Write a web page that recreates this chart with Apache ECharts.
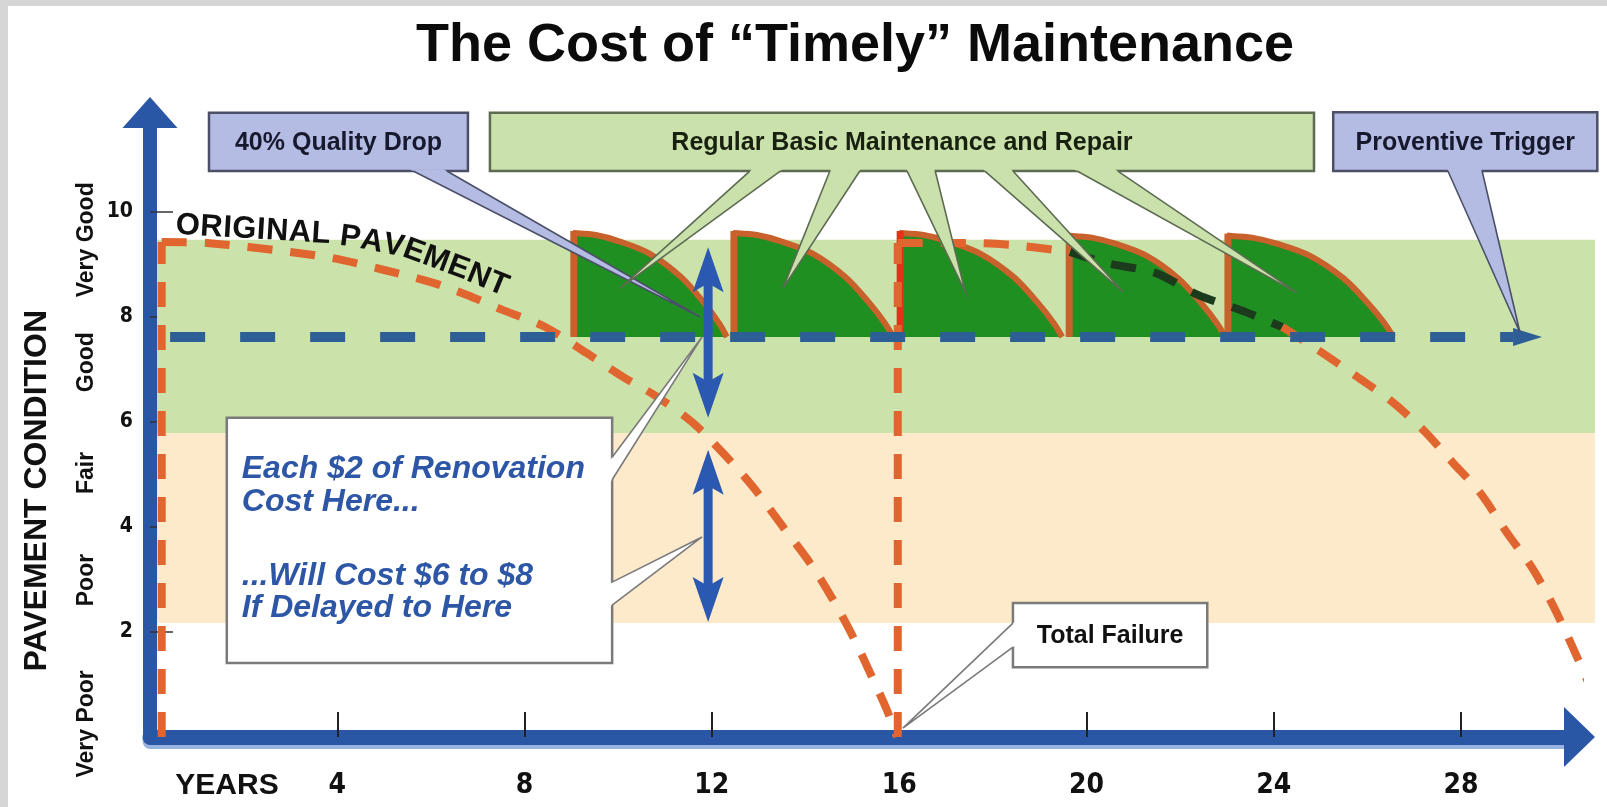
<!DOCTYPE html>
<html><head><meta charset="utf-8"><title>The Cost of “Timely” Maintenance</title>
<script src="https://cdn.jsdelivr.net/npm/echarts@6.0.0/dist/echarts.min.js"></script>
<style>html,body{margin:0;padding:0;background:#fff;overflow:hidden}#chart{width:1607px;height:807px}</style>
</head><body><div id="chart"></div>
<script>
// ================= DATA =================
const titleText = 'The Cost of “Timely” Maintenance';
const xAxisTitle = 'YEARS';
const xTicks = [4, 8, 12, 16, 20, 24, 28];
const yTicks = [2, 4, 6, 8, 10];
const conditionNames = ['Very Poor', 'Poor', 'Fair', 'Good', 'Very Good'];
const conditionPos = [0.25, 2.99, 5.03, 7.14, 9.47];

// condition bands: [x0, x1, y0, y1]
const bandGood = [0.15, 30.86, 5.79, 9.47];
const bandFair = [0.15, 30.86, 2.17, 5.79];

// original pavement (no maintenance)
const originalEdge = [[0.25, 0], [0.25, 9.43]];
const originalCurve = [[0.25, 9.43], [1.22, 9.41], [2.99, 9.24], [3.91, 9.12], [4.98, 8.9], [5.98, 8.67], [6.77, 8.42], [7.54, 8.13], [8.44, 7.81], [9.33, 7.31], [10.1, 6.86], [10.83, 6.48], [11.6, 5.98], [12.32, 5.33], [12.88, 4.76], [13.52, 4.0], [14.1, 3.31], [14.59, 2.61], [15.02, 1.9], [15.38, 1.22], [15.74, 0.51], [15.95, 0]];
// reconstructed pavement after total failure
const renewalEdge = [[15.97, 0], [15.97, 9.41]];
const renewalTop = [[15.97, 9.41], [17.45, 9.41], [18.43, 9.37], [19.65, 9.24]];
const renewalUnder = [[19.65, 9.24], [20.4, 9.03], [21.47, 8.84], [22.38, 8.42], [23.3, 8.13], [24.18, 7.81]];
const renewalTail = [[24.18, 7.81], [25.05, 7.31], [25.78, 6.86], [26.48, 6.42], [27.19, 5.85], [27.83, 5.22], [28.41, 4.65], [28.98, 3.89], [29.52, 3.22], [29.99, 2.46], [30.41, 1.66], [30.76, 0.95], [31.05, 0.38]];

// maintenance caps
const capStart = [9.03, 12.45, 16.0, 19.61, 23.0];
const capEnd = [12.32, 15.87, 19.48, 22.96, 26.55];
const capTop = [9.6, 9.6, 9.6, 9.55, 9.55];
const capBase = 7.62;
const capProfile = [[0, 1], [0.15, 0.98], [0.3, 0.92], [0.5, 0.8], [0.7, 0.58], [0.85, 0.33], [0.95, 0.13], [1, 0]];

// preventive trigger line and cost arrows: [from, to]
const triggerLine = [[0.43, 7.62], [29.73, 7.62]];
const costArrows = [[[11.92, 6.08], [11.92, 9.33]], [[11.92, 2.19], [11.92, 5.47]]];

// callouts: box [x0, x1, y0, y1]
const calloutText = ['40% Quality Drop', 'Regular Basic Maintenance and Repair', 'Proventive Trigger', '', 'Total Failure'];
const calloutBox = [[1.26, 6.79, 10.78, 11.89], [7.26, 24.86, 10.78, 11.89], [25.27, 30.91, 10.78, 11.9], [1.64, 9.87, 1.41, 6.08], [18.43, 22.58, 1.33, 2.55]];
// pointers: [box index, base point 1, base point 2, tip]
const calloutPointers = [
  [0, [5.62, 10.78], [6.34, 10.78], [11.75, 8.0]],
  [1, [12.81, 10.78], [13.46, 10.78], [10.04, 8.55]],
  [1, [14.52, 10.78], [15.16, 10.78], [13.52, 8.55]],
  [1, [16.17, 10.78], [16.77, 10.78], [17.41, 8.48]],
  [1, [17.83, 10.78], [18.43, 10.78], [20.78, 8.48]],
  [1, [19.8, 10.78], [20.67, 10.78], [24.5, 8.46]],
  [2, [27.72, 10.78], [28.45, 10.78], [29.26, 7.7]],
  [3, [9.87, 5.33], [9.87, 4.9], [11.79, 7.62]],
  [3, [9.87, 2.95], [9.87, 2.51], [11.79, 3.81]],
  [4, [18.43, 2.17], [18.43, 1.71], [16.08, 0.17]]
];
const noteLines = ['Each $2 of Renovation', 'Cost Here...', '...Will Cost $6 to $8', 'If Delayed to Here'];
const noteX = 1.96;
const noteY = [5.10, 4.48, 3.07, 2.46];

const curveLabel = 'ORIGINAL PAVEMENT';
const curveLabelPath = [[0.55, 9.75], [3.69, 9.58], [4.40, 9.50], [5.49, 9.30], [6.60, 8.93], [7.58, 8.57], [8.33, 8.29]];

// ================= STYLE / RENDER =================
const FONT = '"Liberation Sans", Arial, Helvetica, sans-serif';
function hasFont(name) {
  const c = document.createElement('canvas').getContext('2d');
  const s = 'mmmmmmmmmlliiWWW 0123456789';
  c.font = '40px monospace'; const a = c.measureText(s).width;
  c.font = '40px "' + name + '", monospace'; const b = c.measureText(s).width;
  c.font = '40px serif'; const a2 = c.measureText(s).width;
  c.font = '40px "' + name + '", serif'; const b2 = c.measureText(s).width;
  return a !== b || a2 !== b2;
}
const NARROW = ['Liberation Sans Narrow', 'DejaVu Sans Condensed', 'Roboto Condensed'].find(hasFont);
const TICK_FONT = NARROW ? '"' + NARROW + '", ' + FONT : FONT;
const X_TICK_SIZE = NARROW === 'Liberation Sans Narrow' ? 34 : 28;
const Y_TICK_SIZE = NARROW === 'Liberation Sans Narrow' ? 25 : 21;

const AXIS_BLUE = '#2a56a6';
const ORANGE = '#e0652e';
const bandList = [bandGood, bandFair];
const bandColors = ['#cbe2ab', '#fdeacb'];
const calloutStyle = [
  { fill: '#b5bce4', stroke: '#4b5068', color: '#171a2e' },
  { fill: '#cae1ac', stroke: '#5d6b52', color: '#18200f' },
  { fill: '#b5bce4', stroke: '#4b5068', color: '#171a2e' },
  { fill: '#ffffff', stroke: '#7a7a7a', color: '#2d57a6' },
  { fill: '#ffffff', stroke: '#7a7a7a', color: '#111111' }
];

function curvePath(pts) {
  let d = '';
  for (let i = 0; i < pts.length - 1; i++) {
    const p0 = pts[Math.max(i - 1, 0)], p1 = pts[i], p2 = pts[i + 1], p3 = pts[Math.min(i + 2, pts.length - 1)];
    const c1x = p1[0] + (p2[0] - p0[0]) / 6, c1y = p1[1] + (p2[1] - p0[1]) / 6;
    const c2x = p2[0] - (p3[0] - p1[0]) / 6, c2y = p2[1] - (p3[1] - p1[1]) / 6;
    d += ' C' + c1x + ',' + c1y + ' ' + c2x + ',' + c2y + ' ' + p2[0] + ',' + p2[1];
  }
  return d;
}
function head(tip, dir, len, hw, notch) {
  const nx = -dir[1], ny = dir[0];
  const bx = tip[0] - dir[0] * len, by = tip[1] - dir[1] * len;
  const pts = [tip, [bx + nx * hw, by + ny * hw]];
  if (notch) pts.push([tip[0] - dir[0] * len * notch, tip[1] - dir[1] * len * notch]);
  pts.push([bx - nx * hw, by - ny * hw]);
  return pts;
}

const measureCtx = document.createElement('canvas').getContext('2d');

const dashedLine = (name, data, color, extra) => Object.assign({
  name, type: 'line', data, symbol: 'none', showSymbol: false, silent: true, z: 3, clip: false,
  smooth: 0.3,
  lineStyle: { color, width: 8, type: [25, 18], cap: 'butt' }
}, extra || {});

const option = {
  backgroundColor: '#ffffff',
  animation: false,
  title: [{
    text: titleText, left: 850, top: 12, textAlign: 'center',
    textStyle: { fontFamily: FONT, fontWeight: 'bold', fontSize: 54, lineHeight: 58, color: '#0b0b0b' }
  }, {
    text: xAxisTitle, left: 222, top: 766, textAlign: 'center',
    textStyle: { fontFamily: FONT, fontWeight: 'bold', fontSize: 30, lineHeight: 30, color: '#111' }
  }],
  grid: { left: 150, right: 27.5, top: 112.5, bottom: 70, containLabel: false, outerBoundsMode: 'none' },
  xAxis: {
    type: 'value', min: 0, max: 30.53, interval: 4,
    axisLine: { show: true, symbol: ['none', 'triangle'], symbolSize: [60, 31],
      lineStyle: { color: AXIS_BLUE, width: 15, shadowColor: '#9ab4e2', shadowOffsetY: 4, shadowBlur: 0 } },
    axisTick: { show: true, inside: true, length: 25, customValues: xTicks, lineStyle: { color: '#222', width: 2 } },
    axisLabel: { customValues: xTicks, margin: 786 - 737 - X_TICK_SIZE / 2, fontFamily: TICK_FONT, fontWeight: 'bold', fontSize: X_TICK_SIZE, lineHeight: X_TICK_SIZE, color: '#111' },
    splitLine: { show: false }
  },
  yAxis: [{
    type: 'value', min: 0, max: 11.895, interval: 2, position: 'left',
    axisLine: { show: true, symbol: ['none', 'triangle'], symbolSize: [55, 31],
      lineStyle: { color: AXIS_BLUE, width: 14, cap: 'square' } },
    axisTick: { show: true, inside: true, length: 23, customValues: yTicks, lineStyle: { color: '#333', width: 1.5 } },
    axisLabel: { customValues: yTicks, margin: 17, fontFamily: TICK_FONT, fontWeight: 'bold', fontSize: Y_TICK_SIZE, lineHeight: Y_TICK_SIZE, color: '#111' },
    splitLine: { show: false }
  }, {
    type: 'value', min: 0, max: 11.895, position: 'left', offset: 0,
    name: 'PAVEMENT CONDITION', nameLocation: 'middle', nameGap: 96.5, nameMoveOverlap: false,
    nameTextStyle: { fontFamily: FONT, fontWeight: 'bold', fontSize: 32, lineHeight: 32, color: '#111', padding: [0, 132, 0, 0] },
    axisLine: { show: false }, axisTick: { show: false }, splitLine: { show: false },
    axisLabel: {
      customValues: conditionPos, rotate: 90, margin: 51.5,
      formatter: (v) => { const k = conditionPos.findIndex(p => Math.abs(p - v) < 1e-6); return k >= 0 ? conditionNames[k] : ''; },
      fontFamily: FONT, fontWeight: 'bold', fontSize: 23, lineHeight: 23, color: '#111'
    }
  }],
  graphic: [
    { type: 'rect', z: 100, silent: true, shape: { x: 0, y: 0, width: 8, height: 807 }, style: { fill: '#d6d6d6' } },
    { type: 'rect', z: 100, silent: true, shape: { x: 0, y: 0, width: 1607, height: 6 }, style: { fill: '#d6d6d6' } }
  ],
  series: [
    { // condition bands
      type: 'custom', name: 'bands', silent: true, clip: false, z: 1,
      data: bandList.map(b => [b[0], b[2]]),
      renderItem: (params, api) => {
        const b = bandList[params.dataIndex];
        const p0 = api.coord([b[0], b[3]]), p1 = api.coord([b[1], b[2]]);
        return { type: 'rect', shape: { x: p0[0], y: p0[1], width: p1[0] - p0[0], height: p1[1] - p0[1] }, style: { fill: bandColors[params.dataIndex] } };
      }
    },
    { // maintenance caps
      type: 'custom', name: 'caps', silent: true, clip: false, z: 2,
      data: capStart.map((s, i) => [s, capBase]),
      renderItem: (params, api) => {
        const i = params.dataIndex;
        const xs = capStart[i], xe = capEnd[i], top = capTop[i];
        const pts = capProfile.map(([t, h]) => api.coord([xs + t * (xe - xs), capBase + h * (top - capBase)]));
        const b0 = api.coord([xs, capBase]);
        const fillD = 'M' + b0[0] + ',' + b0[1] + ' L' + pts[0][0] + ',' + pts[0][1] + curvePath(pts) + ' Z';
        const edgeD = 'M' + pts[0][0] + ',' + pts[0][1] + curvePath(pts);
        return { type: 'group', children: [
          { type: 'path', shape: { pathData: fillD }, style: { fill: '#1f8f22' } },
          { type: 'path', shape: { pathData: edgeD }, style: { fill: null, stroke: '#c8612b', lineWidth: 6 } },
          { type: 'line', shape: { x1: b0[0] + 1, y1: b0[1], x2: pts[0][0] + 1, y2: pts[0][1] - 2 }, style: { stroke: i === 2 ? '#e4321a' : '#c8612b', lineWidth: 7 } }
        ] };
      }
    },
    dashedLine('original edge', originalEdge, ORANGE, { smooth: false }),
    dashedLine('original pavement', originalCurve, ORANGE),
    dashedLine('renewal edge', renewalEdge, ORANGE, { smooth: false }),
    dashedLine('renewal top', renewalTop, ORANGE),
    dashedLine('renewal under caps', renewalUnder, '#1b3b1c'),
    dashedLine('renewal tail', renewalTail, ORANGE),
    { // trigger line and cost arrows
      type: 'custom', name: 'arrows', silent: true, clip: false, z: 4,
      data: [triggerLine[0]].concat(costArrows.map(a => a[0])),
      renderItem: (params, api) => {
        const i = params.dataIndex;
        const seg = i === 0 ? triggerLine : costArrows[i - 1];
        const p = api.coord(seg[0]), q = api.coord(seg[1]);
        let dx = q[0] - p[0], dy = q[1] - p[1]; const L = Math.hypot(dx, dy); const dir = [dx / L, dy / L];
        if (i === 0) {
          const hl = 29;
          return { type: 'group', children: [
            { type: 'line', shape: { x1: p[0], y1: p[1], x2: q[0] - dir[0] * hl, y2: q[1] - dir[1] * hl }, style: { stroke: '#2d5f96', lineWidth: 10, lineDash: [35, 35] } },
            { type: 'polygon', shape: { points: head(q, dir, hl, 9, 0) }, style: { fill: '#2d5f96' } }
          ] };
        }
        const hl = 45, hw = 15.5, col = '#2b58b0';
        return { type: 'group', children: [
          { type: 'line', shape: { x1: p[0] + dir[0] * hl * 0.6, y1: p[1] + dir[1] * hl * 0.6, x2: q[0] - dir[0] * hl * 0.6, y2: q[1] - dir[1] * hl * 0.6 }, style: { stroke: col, lineWidth: 9 } },
          { type: 'polygon', shape: { points: head(q, dir, hl, hw, 0.8) }, style: { fill: col } },
          { type: 'polygon', shape: { points: head(p, [-dir[0], -dir[1]], hl, hw, 0.8) }, style: { fill: col } }
        ] };
      }
    },
    { // callout boxes with pointers
      type: 'custom', name: 'callouts', silent: true, clip: false, z: 5,
      data: calloutBox.map(b => [b[0], b[2]]),
      renderItem: (params, api) => {
        const i = params.dataIndex;
        const box = calloutBox[i], st = calloutStyle[i];
        const tl = api.coord([box[0], box[3]]), br = api.coord([box[1], box[2]]);
        const children = [{ type: 'rect', shape: { x: tl[0], y: tl[1], width: br[0] - tl[0], height: br[1] - tl[1] }, style: { fill: st.fill, stroke: st.stroke, lineWidth: 2.5 } }];
        calloutPointers.filter(p => p[0] === i).forEach(p => {
          const b1 = api.coord(p[1]), b2 = api.coord(p[2]), t = api.coord(p[3]);
          let dx = (b1[0] + b2[0]) / 2 - t[0], dy = (b1[1] + b2[1]) / 2 - t[1]; const L = Math.hypot(dx, dy); dx /= L; dy /= L;
          const e1 = [b1[0] + dx * 4, b1[1] + dy * 4], e2 = [b2[0] + dx * 4, b2[1] + dy * 4];
          children.push({ type: 'polygon', shape: { points: [e1, t, e2] }, style: { fill: st.fill } });
          children.push({ type: 'polyline', shape: { points: [b1, t, b2] }, style: { stroke: st.stroke, lineWidth: 1.6, fill: null } });
        });
        if (calloutText[i]) {
          children.push({ type: 'text', x: (tl[0] + br[0]) / 2, y: (tl[1] + br[1]) / 2 + 1, style: { text: calloutText[i], font: 'bold 25px ' + FONT, fill: st.color, align: 'center', verticalAlign: 'middle' } });
        }
        if (i === 3) {
          noteLines.forEach((line, k) => {
            const pt = api.coord([noteX, noteY[k]]);
            children.push({ type: 'text', x: pt[0], y: pt[1], style: { text: line, font: 'italic bold 32px ' + FONT, fill: st.color, align: 'left', verticalAlign: 'middle' } });
          });
        }
        return { type: 'group', children };
      }
    },
    { // label along the original pavement curve
      type: 'custom', name: 'curve label', silent: true, clip: false, z: 5,
      data: [curveLabelPath[0]],
      renderItem: (params, api) => {
        const pts = curveLabelPath.map(p => api.coord(p));
        const cum = [0];
        for (let k = 1; k < pts.length; k++) cum.push(cum[k - 1] + Math.hypot(pts[k][0] - pts[k - 1][0], pts[k][1] - pts[k - 1][1]));
        const font = 'bold 31px ' + FONT;
        measureCtx.font = font;
        const spacing = 0.5;
        let s = 0; const children = [];
        for (const ch of curveLabel) {
          const w = measureCtx.measureText(ch).width;
          const c = s + w / 2;
          let k = 0; while (k < pts.length - 2 && cum[k + 1] < c) k++;
          const segL = cum[k + 1] - cum[k];
          const f = (c - cum[k]) / segL;
          const x = pts[k][0] + (pts[k + 1][0] - pts[k][0]) * f;
          const y = pts[k][1] + (pts[k + 1][1] - pts[k][1]) * f;
          const ang = Math.atan2(pts[k + 1][1] - pts[k][1], pts[k + 1][0] - pts[k][0]);
          if (ch !== ' ') children.push({ type: 'text', x, y, rotation: -ang, style: { text: ch, font, fill: '#111', align: 'center', verticalAlign: 'middle' } });
          s += w + spacing;
        }
        return { type: 'group', children };
      }
    }
  ]
};

const chart = echarts.init(document.getElementById('chart'), null, { renderer: 'canvas', width: 1607, height: 807 });
chart.setOption(option);
</script></body></html>
